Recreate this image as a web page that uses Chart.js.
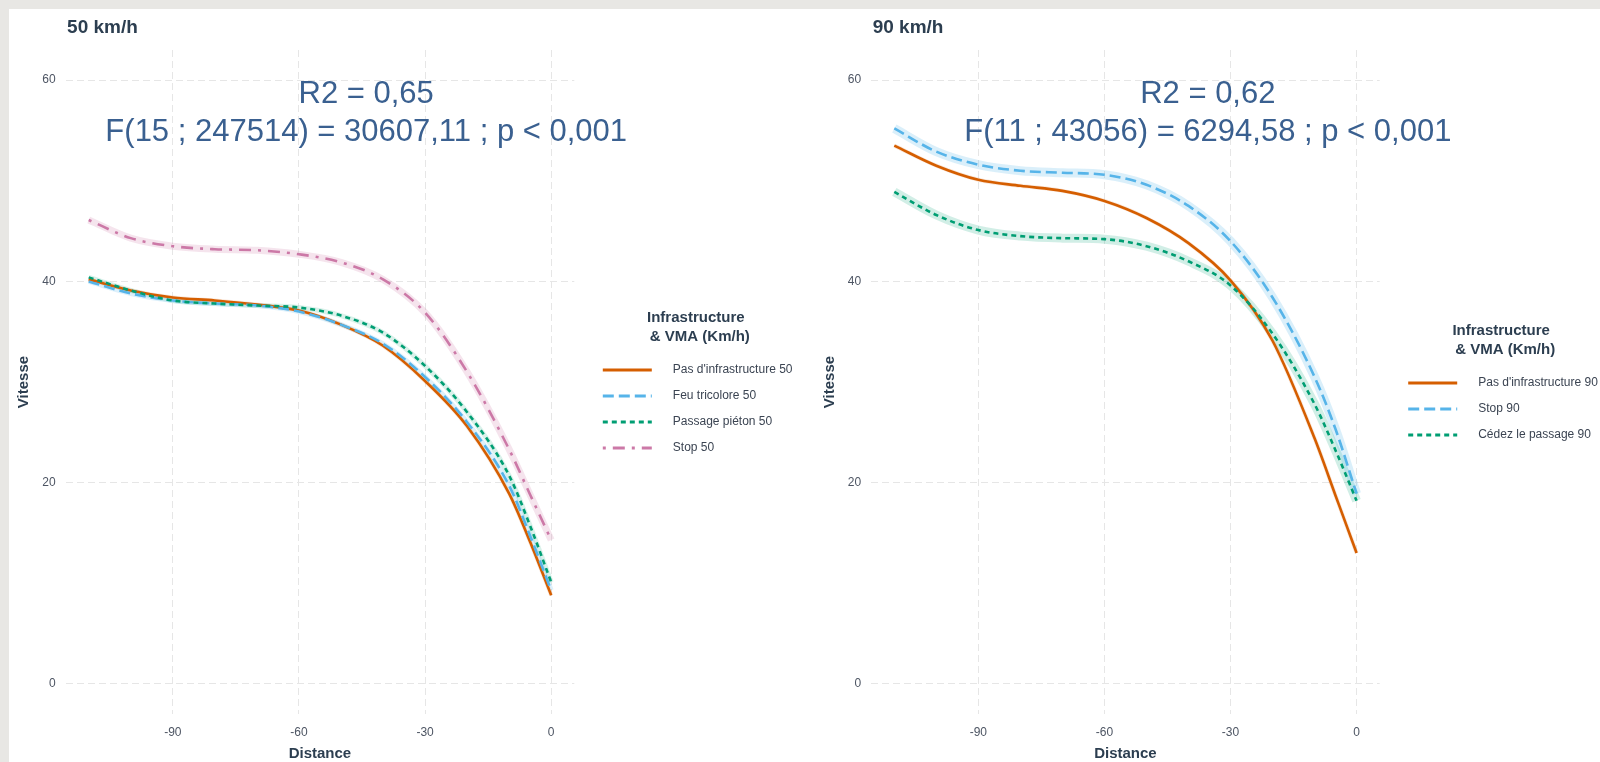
<!DOCTYPE html>
<html>
<head>
<meta charset="utf-8">
<script src="https://cdn.jsdelivr.net/npm/chart.js@4.4.1/dist/chart.umd.min.js"></script>
<style>
  html, body { margin: 0; padding: 0; background: #e8e7e4; overflow: hidden; }
  #page { position: absolute; left: 9px; top: 9px; width: 1591px; height: 753px; background: #fff; }
  canvas { position: absolute; top: 0; }
  #c50 { left: 0; }
  #c90 { left: 791px; }
</style>
</head>
<body>
<div id="page">
  <canvas id="c50" width="791" height="753"></canvas>
  <canvas id="c90" width="800" height="753"></canvas>
</div>
<script>
// distances (m) where the fitted curves were read
const distance = [-110, -100, -90, -80, -70, -60, -50, -40, -30, -20, -10, -5, 0];

// 50 km/h
const pasInfra50 = [40.2, 39.1, 38.4, 38.1, 37.7, 37.1, 35.7, 33.6, 30.1, 25.6, 18.9, 14.1, 8.8];
const feuTricolore50 = [40.0, 38.8, 38.1, 37.8, 37.6, 37.0, 35.7, 33.8, 30.5, 26.0, 19.7, 14.7, 9.3];
const passagePieton50 = [40.4, 39.1, 38.1, 37.8, 37.6, 37.4, 36.6, 34.9, 31.6, 27.0, 20.7, 15.7, 10.1];
const stop50 = [46.1, 44.3, 43.5, 43.2, 43.1, 42.7, 41.9, 40.2, 36.9, 31.0, 23.3, 18.8, 14.3];

// 90 km/h
const pasInfra90 = [53.5, 51.5, 50.1, 49.5, 49.0, 48.0, 46.3, 43.8, 40.1, 34.1, 24.4, 18.7, 13.0];
const stop90 = [55.2, 52.9, 51.6, 51.0, 50.8, 50.6, 49.6, 47.5, 44.0, 38.4, 30.5, 25.3, 18.9];
const cedezPassage90 = [48.9, 46.6, 45.1, 44.5, 44.3, 44.2, 43.5, 42.0, 39.6, 34.8, 27.8, 23.2, 18.2];

const xTicks = [-90, -60, -30, 0];
const yTicks = [0, 20, 40, 60];

const FONT = '"Liberation Sans", Arial, Helvetica, sans-serif';
const INK = '#2c3e50';
const ORANGE = '#D55E00', BLUE = '#56B4E9', GREEN = '#009E73', PINK = '#CC79A7';
const SOLID = [], DASHED = [11, 5], DOTTED = [5, 4], DOTDASH = [3, 7, 12, 7];

// titles, annotation, custom legend
const panelDecor = {
  id: 'panelDecor',
  afterDraw(chart, args, opts) {
    const { ctx, chartArea, scales: { x, y } } = chart;
    ctx.save();

    ctx.fillStyle = INK;
    ctx.font = `bold 19px ${FONT}`;
    ctx.textAlign = 'left';
    ctx.textBaseline = 'alphabetic';
    ctx.fillText(opts.title, chartArea.left + 1.5, 24.3);

    ctx.fillStyle = '#3a6090';
    ctx.font = `31px ${FONT}`;
    ctx.textAlign = 'center';
    const ax = x.getPixelForValue(opts.noteX);
    const ay = y.getPixelForValue(opts.noteY);
    opts.note.forEach((t, i) => ctx.fillText(t, ax, ay + i * 38));

    // legend
    const items = opts.series;
    const mid = (chartArea.top + chartArea.bottom) / 2;
    const t = mid - (items.length - 1) * 13 - 25;
    const lx = chartArea.right;
    ctx.fillStyle = INK;
    ctx.font = `bold 15px ${FONT}`;
    ctx.textBaseline = 'middle';
    ctx.fillText('Infrastructure', lx + 121.5, t);
    ctx.fillText('& VMA (Km/h)', lx + 125.5, t + 18.5);

    ctx.textAlign = 'left';
    ctx.font = `12px ${FONT}`;
    items.forEach((s, k) => {
      const yy = t + 52 + 26 * k;
      ctx.strokeStyle = s.color;
      ctx.lineWidth = 3;
      ctx.setLineDash(s.dash);
      ctx.beginPath();
      ctx.moveTo(lx + 28.5, yy);
      ctx.lineTo(lx + 77.5, yy);
      ctx.stroke();
      ctx.setLineDash([]);
      ctx.fillStyle = '#3b4452';
      ctx.fillText(s.label, lx + 98.5, yy);
    });
    ctx.restore();
  }
};

function buildPanel(canvasId, opts) {
  const datasets = [];
  opts.series.forEach((s, i) => {
    const points = distance.map((d, k) => ({ x: d, y: s.values[k] }));
    datasets.push({
      label: s.label, data: points,
      borderColor: s.color, borderWidth: 2.6, borderDash: s.dash,
      pointRadius: 0, cubicInterpolationMode: 'monotone', fill: false, order: 10 - i
    });
    // confidence band look
    datasets.push({
      label: s.label + ' IC', data: points,
      borderColor: s.band, borderWidth: s.bandWidth,
      pointRadius: 0, cubicInterpolationMode: 'monotone', fill: false, order: 20
    });
  });

  const gridStyle = { color: '#e6e6e6', lineWidth: 1, drawTicks: false };
  const tickFont = { family: FONT, size: 12 };
  const titleFont = { family: FONT, size: 15, weight: 'bold', lineHeight: 16 / 15 };

  return new Chart(document.getElementById(canvasId), {
    type: 'line',
    data: { datasets },
    options: {
      responsive: false,
      animation: false,
      devicePixelRatio: 1,
      layout: { padding: opts.padding },
      plugins: {
        legend: { display: false },
        tooltip: { enabled: false },
        panelDecor: { title: opts.title, note: opts.note, noteX: opts.noteX, noteY: 57.75, series: opts.series }
      },
      scales: {
        x: {
          type: 'linear', min: -115.5, max: 5.5,
          afterBuildTicks: s => { s.ticks = xTicks.map(v => ({ value: v })); },
          afterFit: s => { s.height = 48; },
          grid: gridStyle,
          border: { display: false, dash: [7, 4] },
          ticks: { font: tickFont, color: '#4d5563', padding: 11, maxRotation: 0 },
          title: { display: true, text: 'Distance', color: INK, font: titleFont, padding: { top: 0, bottom: 0 } }
        },
        y: {
          type: 'linear', min: -3, max: 63,
          afterBuildTicks: s => { s.ticks = yTicks.map(v => ({ value: v })); },
          afterFit: s => { s.width = 56.6; },
          grid: gridStyle,
          border: { display: false, dash: [7, 4] },
          ticks: { font: tickFont, color: '#4d5563', padding: 10 },
          title: { display: true, text: 'Vitesse', color: INK, font: { family: FONT, size: 15, weight: 'bold' }, padding: { top: 6, bottom: 0 } }
        }
      }
    },
    plugins: [panelDecor]
  });
}

buildPanel('c50', {
  title: '50 km/h',
  note: ['R2 = 0,65', 'F(15 ; 247514) = 30607,11 ; p < 0,001'],
  noteX: -44,
  padding: { left: 0, top: 41, right: 225.7, bottom: 0 },
  series: [
    { label: "Pas d'infrastructure 50", values: pasInfra50, color: ORANGE, dash: SOLID, band: 'rgba(213,94,0,0.15)', bandWidth: 4 },
    { label: 'Feu tricolore 50', values: feuTricolore50, color: BLUE, dash: DASHED, band: 'rgba(86,180,233,0.2)', bandWidth: 5 },
    { label: 'Passage piéton 50', values: passagePieton50, color: GREEN, dash: DOTTED, band: 'rgba(0,158,115,0.15)', bandWidth: 5 },
    { label: 'Stop 50', values: stop50, color: PINK, dash: DOTDASH, band: 'rgba(204,121,167,0.2)', bandWidth: 7 }
  ]
});

buildPanel('c90', {
  title: '90 km/h',
  note: ['R2 = 0,62', 'F(11 ; 43056) = 6294,58 ; p < 0,001'],
  noteX: -35.4,
  padding: { left: 14.6, top: 41, right: 220.3, bottom: 0 },
  series: [
    { label: "Pas d'infrastructure 90", values: pasInfra90, color: ORANGE, dash: SOLID, band: 'rgba(213,94,0,0.15)', bandWidth: 4 },
    { label: 'Stop 90', values: stop90, color: BLUE, dash: DASHED, band: 'rgba(86,180,233,0.22)', bandWidth: 9 },
    { label: 'Cédez le passage 90', values: cedezPassage90, color: GREEN, dash: DOTTED, band: 'rgba(0,158,115,0.18)', bandWidth: 9 }
  ]
});
</script>
</body>
</html>
